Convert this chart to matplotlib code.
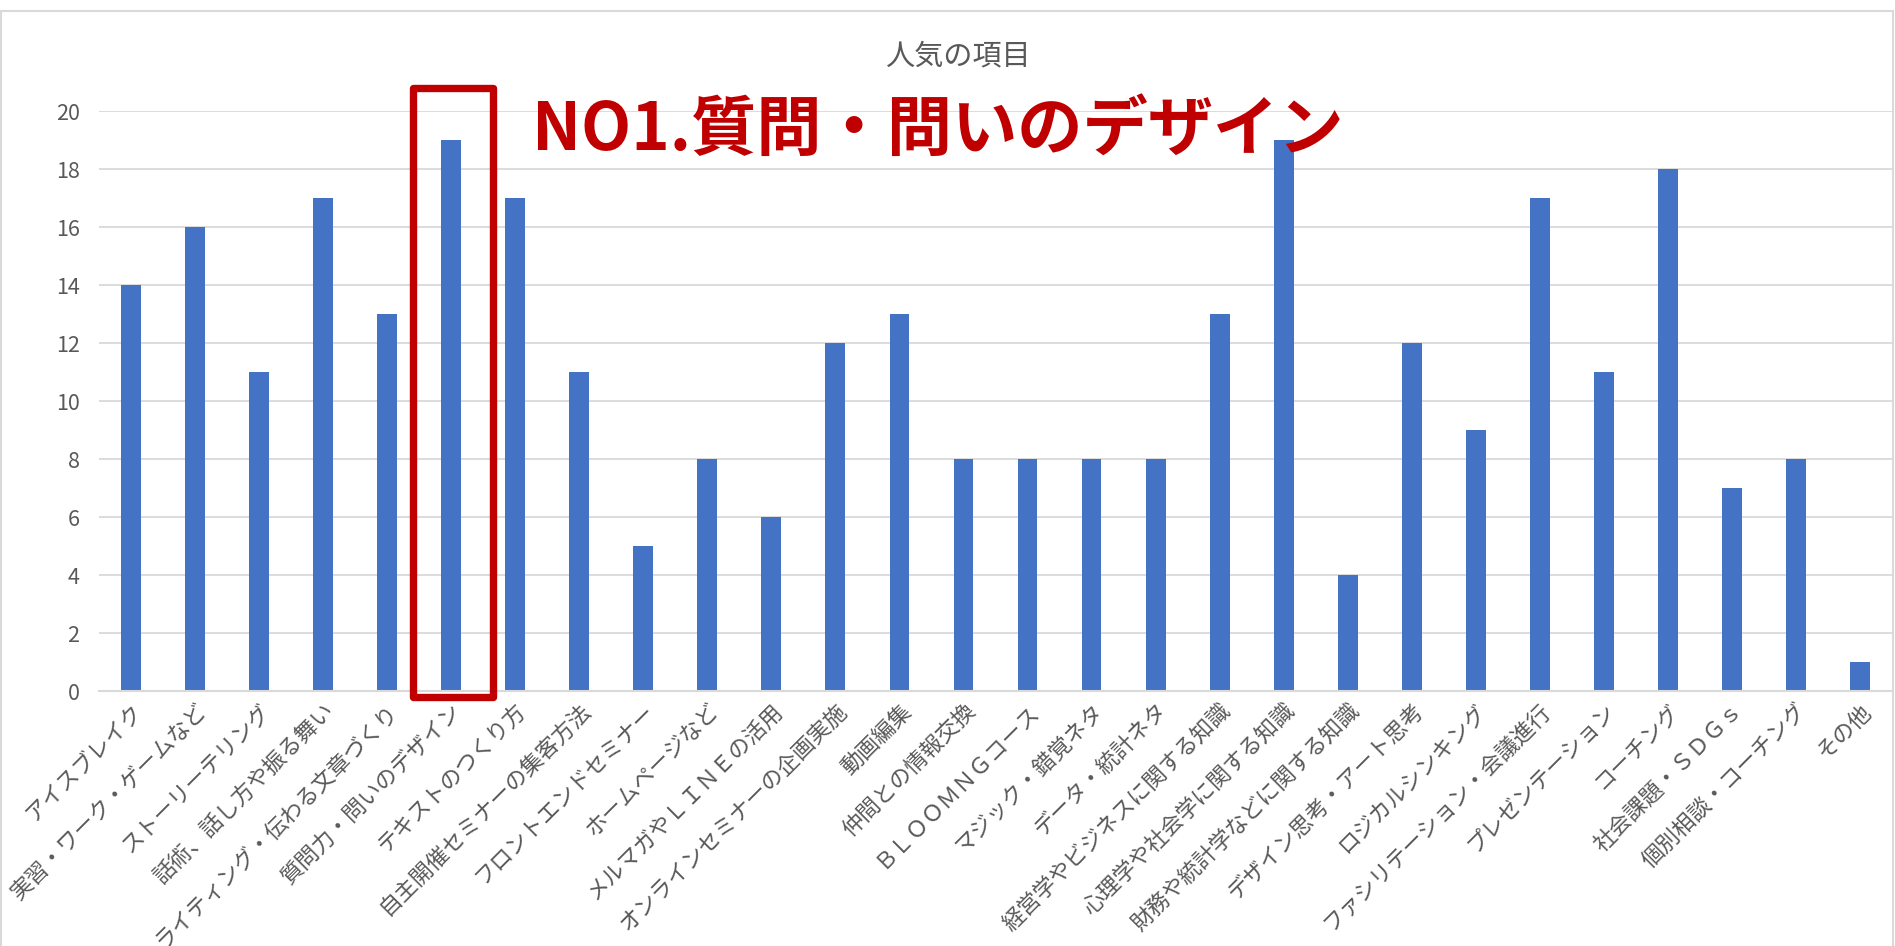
import numpy as np
import matplotlib
matplotlib.use('Agg')
import matplotlib.pyplot as plt
from matplotlib.patches import Rectangle

plt.rcParams['font.family'] = ['Noto Sans CJK JP', 'DejaVu Sans']

# data
TITLE = '人気の項目'
HIGHLIGHT_LABEL = '質問力・問いのデザイン'
HIGHLIGHT_TEXT = 'NO1.質問・問いのデザイン'

categories = [
    'アイスブレイク', '実習・ワーク・ゲームなど', 'ストーリーテリング',
    '話術、話し方や振る舞い', 'ライティング・伝わる文章づくり', '質問力・問いのデザイン',
    'テキストのつくり方', '自主開催セミナーの集客方法', 'フロントエンドセミナー',
    'ホームページなど', 'メルマガやＬＩＮＥの活用', 'オンラインセミナーの企画実施',
    '動画編集', '仲間との情報交換', 'ＢＬＯＯＭＮＧコース', 'マジック・錯覚ネタ',
    'データ・統計ネタ', '経営学やビジネスに関する知識', '心理学や社会学に関する知識',
    '財務や統計学などに関する知識', 'デザイン思考・アート思考', 'ロジカルシンキング',
    'ファシリテーション・会議進行', 'プレゼンテーション', 'コーチング',
    '社会課題・ＳＤＧｓ', '個別相談・コーチング', 'その他',
]
counts = [14, 16, 11, 17, 13, 19, 17, 11, 5, 8, 6, 12, 13, 8, 8, 8, 8, 13, 19, 4,
          12, 9, 17, 11, 18, 7, 8, 1]
y_ticks = list(range(0, 21, 2))

BAR_COLOR = '#4472C4'
GRID_COLOR = '#D9D9D9'
TEXT_COLOR = '#595959'
RED = '#C00000'

W, H = 1895, 946
fig = plt.figure(figsize=(W / 100, H / 100), dpi=100)

# outer chart border
fig.patches.append(Rectangle((1 / W, -0.05), (W - 3) / W, 1.05 - 11 / H,
                             transform=fig.transFigure, fill=False,
                             edgecolor=GRID_COLOR, linewidth=1.5))

ax = fig.add_axes([99 / W, 1 - 691 / H, (1892 - 99) / W, (691 - 111) / H])

x = np.arange(len(categories))
ax.bar(x, counts, width=0.31, color=BAR_COLOR, zorder=2)

ax.set_xlim(-0.5, len(categories) - 0.5)
ax.set_ylim(0, 20)
ax.set_yticks(y_ticks)
ax.yaxis.grid(True, color=GRID_COLOR, linewidth=1.3)
ax.set_axisbelow(True)

for side in ['top', 'right', 'left']:
    ax.spines[side].set_visible(False)
ax.spines['bottom'].set_color(GRID_COLOR)
ax.spines['bottom'].set_linewidth(1.5)

ax.tick_params(axis='both', length=0, colors=TEXT_COLOR)
ax.tick_params(axis='y', labelsize=15.5, pad=14)
ax.set_xticks(x)
ax.set_xticklabels(categories, rotation=45, ha='right', va='top',
                   rotation_mode='anchor', fontsize=16)
ax.tick_params(axis='x', pad=6)

# highlight box around the top item
hi = categories.index(HIGHLIGHT_LABEL)
ax.add_patch(Rectangle((hi - 0.6, -0.2), 1.25, counts[hi] + 2.0, fill=False,
                       edgecolor=RED, linewidth=5.3, joinstyle='round',
                       clip_on=False, zorder=4))

fig.text(532 / W, 1 - 150 / H, HIGHLIGHT_TEXT, color=RED, fontsize=47,
         fontweight='bold', ha='left', va='baseline', zorder=5)

fig.text(958 / W, 1 - 56 / H, TITLE, ha='center', va='center', fontsize=21,
         color=TEXT_COLOR)

fig.savefig('out.png', dpi=100)
